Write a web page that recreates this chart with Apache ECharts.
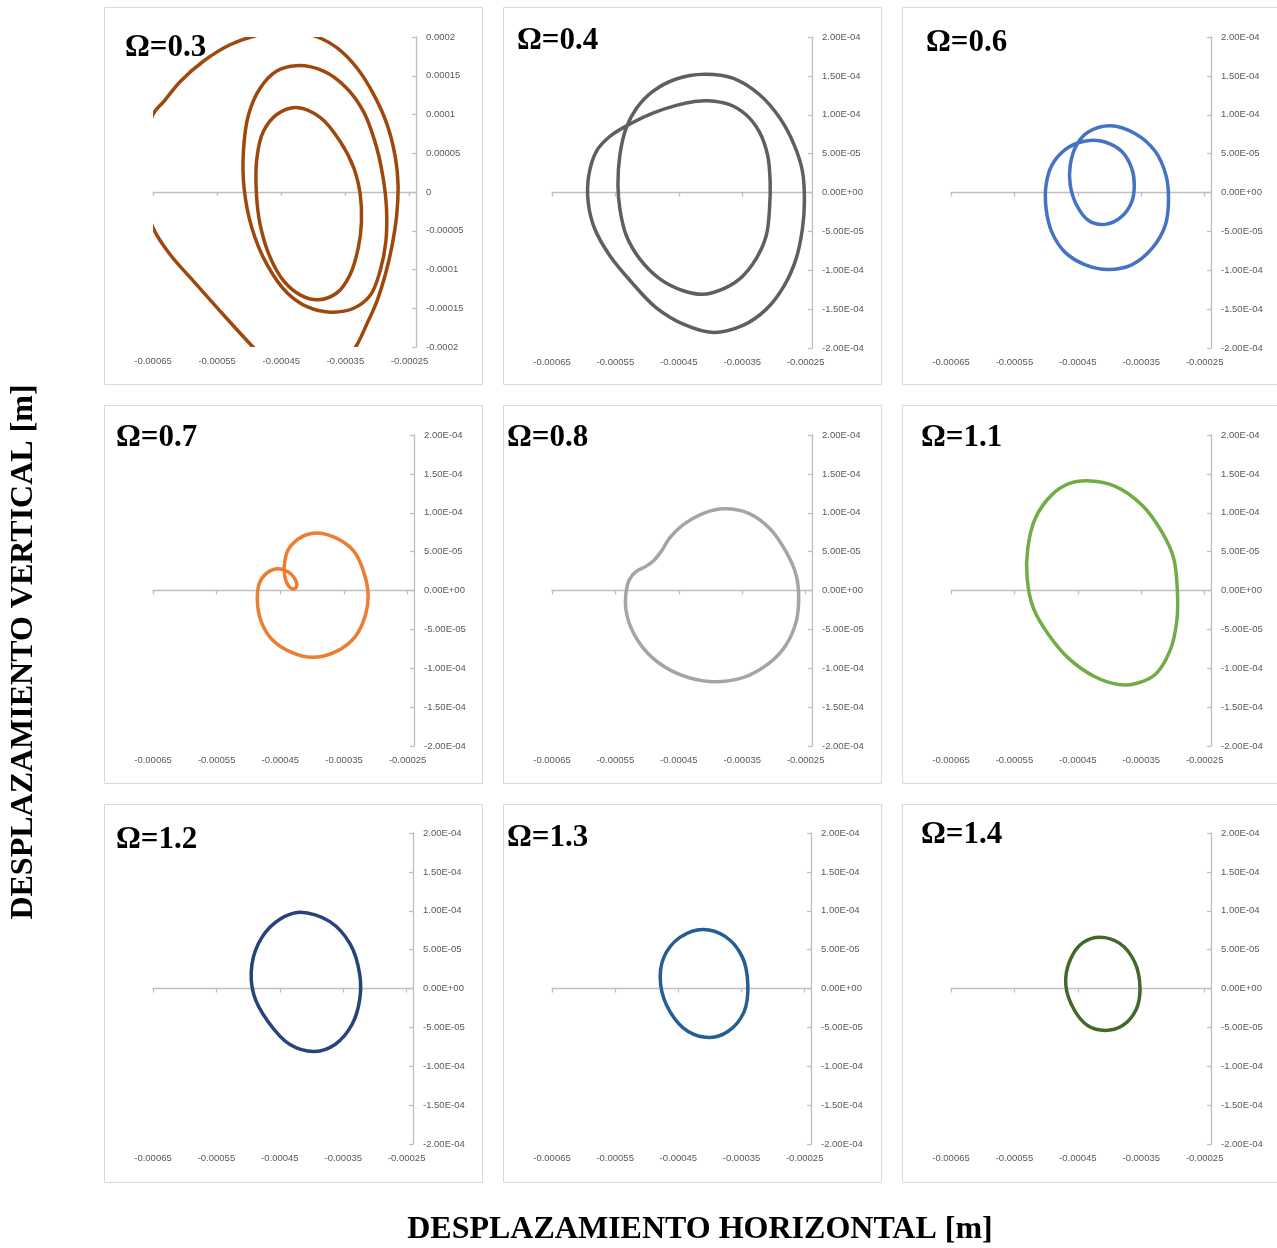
<!DOCTYPE html>
<html>
<head>
<meta charset="utf-8">
<title>Órbitas del rotor</title>
<script src="https://cdn.jsdelivr.net/npm/echarts@6/dist/echarts.min.js"></script>
<style>
  html, body { margin: 0; padding: 0; background: #ffffff; }
  #chart { width: 1277px; height: 1248px; }
</style>
</head>
<body>
<div id="chart"></div>
<script>
// ---- Axis ticks (metres) ----
const xTicks = [-0.00065, -0.00055, -0.00045, -0.00035, -0.00025];
const yTicks = [-0.0002, -0.00015, -0.0001, -0.00005, 0, 0.00005, 0.0001, 0.00015, 0.0002];

// ---- Orbits: [horizontal, vertical] displacement in metres, one closed loop per array ----
const orbit03Outer = [[-444e-6,209e-6],[-397e-6,201e-6],[-363e-6,186e-6],[-332e-6,160e-6],[-306e-6,126e-6],[-285e-6,87e-6],[-272e-6,44e-6],[-268e-6,10e-6],[-270e-6,-29e-6],[-278e-6,-72e-6],[-288e-6,-107e-6],[-301e-6,-141e-6],[-317e-6,-171e-6],[-335e-6,-201e-6],[-363e-6,-226e-6],[-415e-6,-237e-6],[-460e-6,-228e-6],[-493e-6,-201e-6],[-545e-6,-154e-6],[-587e-6,-115e-6],[-623e-6,-81e-6],[-650e-6,-46e-6],[-675e-6,27e-6],[-650e-6,100e-6],[-633e-6,117e-6],[-607e-6,143e-6],[-571e-6,169e-6],[-530e-6,190e-6],[-493e-6,201e-6]];
const orbit03Middle = [[-427e-6,163e-6],[-384e-6,156e-6],[-348e-6,134e-6],[-322e-6,104e-6],[-304e-6,65e-6],[-292e-6,22e-6],[-286e-6,-21e-6],[-287e-6,-64e-6],[-296e-6,-102e-6],[-311e-6,-133e-6],[-337e-6,-150e-6],[-374e-6,-155e-6],[-410e-6,-148e-6],[-441e-6,-130e-6],[-472e-6,-94e-6],[-496e-6,-46e-6],[-508e-6,5e-6],[-509e-6,53e-6],[-501e-6,100e-6],[-483e-6,134e-6],[-457e-6,156e-6]];
const orbit03Inner = [[-427e-6,109e-6],[-389e-6,96e-6],[-358e-6,65e-6],[-337e-6,31e-6],[-327e-6,-3e-6],[-325e-6,-38e-6],[-330e-6,-72e-6],[-343e-6,-107e-6],[-363e-6,-130e-6],[-392e-6,-139e-6],[-420e-6,-133e-6],[-446e-6,-115e-6],[-467e-6,-85e-6],[-483e-6,-42e-6],[-489e-6,1e-6],[-488e-6,44e-6],[-478e-6,78e-6],[-457e-6,100e-6]];
const orbit04 = [[-410e-6,152e-6],[-365e-6,147e-6],[-323e-6,126e-6],[-291e-6,96e-6],[-268e-6,61e-6],[-255e-6,27e-6],[-252e-6,-12e-6],[-255e-6,-46e-6],[-265e-6,-85e-6],[-284e-6,-120e-6],[-312e-6,-150e-6],[-349e-6,-171e-6],[-396e-6,-180e-6],[-441e-6,-170e-6],[-486e-6,-148e-6],[-525e-6,-115e-6],[-559e-6,-81e-6],[-583e-6,-46e-6],[-593e-6,-12e-6],[-592e-6,22e-6],[-580e-6,53e-6],[-559e-6,72e-6],[-525e-6,89e-6],[-491e-6,102e-6],[-454e-6,112e-6],[-425e-6,117e-6],[-404e-6,118e-6],[-370e-6,113e-6],[-344e-6,100e-6],[-323e-6,78e-6],[-310e-6,48e-6],[-306e-6,14e-6],[-307e-6,-21e-6],[-312e-6,-55e-6],[-328e-6,-85e-6],[-354e-6,-111e-6],[-386e-6,-126e-6],[-412e-6,-131e-6],[-444e-6,-126e-6],[-480e-6,-111e-6],[-512e-6,-85e-6],[-533e-6,-55e-6],[-543e-6,-21e-6],[-546e-6,10e-6],[-543e-6,48e-6],[-533e-6,83e-6],[-517e-6,108e-6],[-491e-6,130e-6],[-454e-6,146e-6]];
const orbit06 = [[-399e-6,86e-6],[-360e-6,76e-6],[-328e-6,53e-6],[-311e-6,22e-6],[-307e-6,-8e-6],[-312e-6,-42e-6],[-333e-6,-72e-6],[-365e-6,-93e-6],[-402e-6,-99e-6],[-438e-6,-93e-6],[-470e-6,-77e-6],[-491e-6,-51e-6],[-500e-6,-21e-6],[-500e-6,10e-6],[-491e-6,35e-6],[-470e-6,55e-6],[-449e-6,64e-6],[-431e-6,67e-6],[-407e-6,65e-6],[-381e-6,53e-6],[-365e-6,31e-6],[-361e-6,10e-6],[-365e-6,-12e-6],[-381e-6,-31e-6],[-407e-6,-41e-6],[-433e-6,-36e-6],[-452e-6,-16e-6],[-462e-6,10e-6],[-462e-6,35e-6],[-452e-6,61e-6],[-433e-6,78e-6]];
const orbit07 = [[-392e-6,74e-6],[-361e-6,67e-6],[-334e-6,50e-6],[-319e-6,24e-6],[-312e-6,-6e-6],[-316e-6,-31e-6],[-332e-6,-59e-6],[-361e-6,-78e-6],[-400e-6,-86e-6],[-434e-6,-79e-6],[-463e-6,-63e-6],[-480e-6,-40e-6],[-486e-6,-14e-6],[-483e-6,9e-6],[-472e-6,22e-6],[-455e-6,28e-6],[-438e-6,24e-6],[-428e-6,16e-6],[-424e-6,7e-6],[-428e-6,2e-6],[-435e-6,4e-6],[-441e-6,12e-6],[-444e-6,26e-6],[-443e-6,37e-6],[-438e-6,52e-6],[-424e-6,65e-6],[-408e-6,72e-6]];
const orbit08 = [[-378e-6,105e-6],[-339e-6,99e-6],[-307e-6,80e-6],[-281e-6,50e-6],[-265e-6,20e-6],[-261e-6,-10e-6],[-265e-6,-40e-6],[-281e-6,-70e-6],[-307e-6,-93e-6],[-349e-6,-112e-6],[-402e-6,-117e-6],[-449e-6,-108e-6],[-491e-6,-87e-6],[-520e-6,-57e-6],[-533e-6,-27e-6],[-533e-6,-1e-6],[-528e-6,14e-6],[-518e-6,24e-6],[-502e-6,31e-6],[-489e-6,39e-6],[-478e-6,50e-6],[-465e-6,67e-6],[-444e-6,84e-6],[-412e-6,99e-6]];
const orbit11 = [[-436e-6,141e-6],[-391e-6,134e-6],[-349e-6,110e-6],[-318e-6,76e-6],[-299e-6,42e-6],[-293e-6,-1e-6],[-294e-6,-40e-6],[-305e-6,-78e-6],[-328e-6,-108e-6],[-360e-6,-120e-6],[-386e-6,-121e-6],[-423e-6,-111e-6],[-465e-6,-87e-6],[-496e-6,-57e-6],[-520e-6,-23e-6],[-530e-6,16e-6],[-529e-6,54e-6],[-517e-6,93e-6],[-491e-6,123e-6],[-465e-6,137e-6]];
const orbit12 = [[-418e-6,98e-6],[-371e-6,86e-6],[-339e-6,57e-6],[-324e-6,18e-6],[-324e-6,-14e-6],[-336e-6,-46e-6],[-363e-6,-72e-6],[-395e-6,-81e-6],[-434e-6,-72e-6],[-469e-6,-42e-6],[-491e-6,-8e-6],[-494e-6,31e-6],[-478e-6,66e-6],[-450e-6,89e-6]];
const orbit13 = [[-411e-6,76e-6],[-376e-6,67e-6],[-349e-6,41e-6],[-340e-6,5e-6],[-346e-6,-30e-6],[-371e-6,-55e-6],[-400e-6,-63e-6],[-435e-6,-55e-6],[-463e-6,-30e-6],[-478e-6,5e-6],[-473e-6,40e-6],[-447e-6,66e-6]];
const orbit14 = [[-415e-6,66e-6],[-384e-6,58e-6],[-361e-6,35e-6],[-352e-6,1e-6],[-358e-6,-27e-6],[-380e-6,-48e-6],[-407e-6,-54e-6],[-434e-6,-48e-6],[-456e-6,-27e-6],[-469e-6,5e-6],[-462e-6,37e-6],[-442e-6,59e-6]];

// ---- Panels: frequency ratio, orbit loops, colour, vertical label style ----
const omegas = ['0.3', '0.4', '0.6', '0.7', '0.8', '1.1', '1.2', '1.3', '1.4'];
const panelLoops = [[orbit03Outer, orbit03Middle, orbit03Inner], [orbit04], [orbit06], [orbit07], [orbit08], [orbit11], [orbit12], [orbit13], [orbit14]];
const panelColors = ['#9E480E', '#5F5F5F', '#4472C4', '#ED7D31', '#A5A5A5', '#70AD47', '#264478', '#255E91', '#43682B'];
const panelLabelStyle = ['general', 'sci', 'sci', 'sci', 'sci', 'sci', 'sci', 'sci', 'sci'];

// ---- Layout (pixels) ----
const plotBoxes = [
  [153, 37, 263, 310], [552, 37, 260, 311], [951, 37, 260, 311],
  [153, 435, 261, 311], [552, 435, 260, 311], [951, 435, 260, 311],
  [153, 833, 260, 311], [552, 833, 259, 311], [951, 833, 260, 311]
];
const frameBoxes = [
  [104.5, 7.5, 378, 377], [503.5, 7.5, 378, 377], [902.5, 7.5, 378, 377],
  [104.5, 405.5, 378, 378], [503.5, 405.5, 378, 378], [902.5, 405.5, 378, 378],
  [104.5, 804.5, 378, 378], [503.5, 804.5, 378, 378], [902.5, 804.5, 378, 378]
];
const titleAnchors = [[125, 48], [517, 41], [926, 43], [116, 438], [507, 438], [921, 438], [116, 840], [507, 838], [921, 835]];

const X_MIN = -0.00065, X_MAX = -0.00024;
const Y_MIN = yTicks[0], Y_MAX = yTicks[yTicks.length - 1];
const AXIS_GREY = '#BFBFBF';
const LABEL_GREY = '#595959';
const TICK_FONT = '"Liberation Sans", Arial, sans-serif';
const TITLE_FONT = '"Liberation Serif", "Times New Roman", serif';

function fmtGeneral(v) {
  if (Math.abs(v) < 1e-12) return '0';
  return String(parseFloat(v.toPrecision(6)));
}
function fmtSci(v) {
  if (Math.abs(v) < 1e-12) v = 0;
  const parts = v.toExponential(2).split('e');
  const e = parseInt(parts[1], 10);
  return parts[0] + 'E' + (e < 0 ? '-' : '+') + String(Math.abs(e)).padStart(2, '0');
}

// Closed centripetal Catmull-Rom curve through pixel points, as SVG path data.
function closedCurvePath(pts) {
  const n = pts.length;
  const dist = (a, b) => Math.max(1e-6, Math.sqrt(Math.hypot(b[0] - a[0], b[1] - a[1])));
  let d = 'M' + pts[0][0].toFixed(2) + ' ' + pts[0][1].toFixed(2);
  for (let i = 0; i < n; i++) {
    const p0 = pts[(i - 1 + n) % n], p1 = pts[i], p2 = pts[(i + 1) % n], p3 = pts[(i + 2) % n];
    const t1 = dist(p0, p1), t2 = dist(p1, p2), t3 = dist(p2, p3);
    const t1s = t1 * t1, t2s = t2 * t2, t3s = t3 * t3;
    const c1 = [0, 1].map(k => (t1s * p2[k] - t2s * p0[k] + (2 * t1s + 3 * t1 * t2 + t2s) * p1[k]) / (3 * t1 * (t1 + t2)));
    const c2 = [0, 1].map(k => (t3s * p1[k] - t2s * p3[k] + (2 * t3s + 3 * t3 * t2 + t2s) * p2[k]) / (3 * t3 * (t3 + t2)));
    d += ' C' + [c1[0], c1[1], c2[0], c2[1], p2[0], p2[1]].map(v => v.toFixed(2)).join(' ');
  }
  return d + ' Z';
}

function orbitSeries(loop, panelIndex, color) {
  return {
    type: 'custom', xAxisIndex: 2 * panelIndex, yAxisIndex: panelIndex,
    data: loop, encode: { x: 0, y: 1 }, silent: true, z: 3,
    renderItem: (params, api) => {
      if (params.dataIndex !== 0) return { type: 'group', children: [] };
      const pts = loop.map(p => api.coord(p));
      const cs = params.coordSys;
      return {
        type: 'path',
        shape: { pathData: closedCurvePath(pts) },
        style: { fill: 'none', stroke: color, lineWidth: 3.5, lineJoin: 'round' },
        clipPath: { type: 'rect', shape: { x: cs.x, y: cs.y, width: cs.width, height: cs.height } }
      };
    }
  };
}

const grid = [], xAxis = [], yAxis = [], series = [], graphic = [];

omegas.forEach((om, i) => {
  const [l, t, w, h] = plotBoxes[i];
  grid.push({ left: l, top: t, width: w, height: h, containLabel: false, outerBoundsMode: 'none' });

  // horizontal tick labels along the bottom edge
  xAxis.push({
    type: 'value', gridIndex: i, min: X_MIN, max: X_MAX, interval: 0.00005, position: 'bottom',
    axisLine: { show: false, onZero: false }, axisTick: { show: false }, splitLine: { show: false },
    axisLabel: { customValues: xTicks, margin: 9, fontSize: 9.5, color: LABEL_GREY, fontFamily: TICK_FONT,
      formatter: v => fmtGeneral(v) }
  });
  // horizontal axis line through zero vertical displacement
  xAxis.push({
    type: 'value', gridIndex: i, min: X_MIN, max: X_MAX, interval: 0.00005, position: 'bottom',
    axisLine: { show: true, onZero: true, lineStyle: { color: AXIS_GREY, width: 1.3 } },
    axisTick: { show: true, customValues: xTicks, length: 4, lineStyle: { color: AXIS_GREY, width: 1.3 } },
    axisLabel: { show: false }, splitLine: { show: false }
  });
  yAxis.push({
    type: 'value', gridIndex: i, min: Y_MIN, max: Y_MAX, interval: 0.00005, position: 'right',
    axisLine: { show: true, onZero: false, lineStyle: { color: AXIS_GREY, width: 1.3 } },
    axisTick: { show: true, inside: true, length: 4, lineStyle: { color: AXIS_GREY, width: 1.3 } },
    splitLine: { show: false },
    axisLabel: { customValues: yTicks, margin: 10, fontSize: 9.5, color: LABEL_GREY, fontFamily: TICK_FONT,
      formatter: panelLabelStyle[i] === 'general' ? fmtGeneral : fmtSci }
  });

  panelLoops[i].forEach(loop => series.push(orbitSeries(loop, i, panelColors[i])));

  const [fx, fy, fw, fh] = frameBoxes[i];
  graphic.push({
    type: 'rect', shape: { x: fx, y: fy, width: fw, height: fh }, silent: true, z: -10,
    style: { fill: 'none', stroke: '#D9D9D9', lineWidth: 1 }
  });
  graphic.push({
    type: 'text', x: titleAnchors[i][0], y: titleAnchors[i][1], silent: true, z: 100,
    style: { text: 'Ω=' + om, fill: '#000000', font: 'bold 31px ' + TITLE_FONT,
      textAlign: 'left', textVerticalAlign: 'middle', verticalAlign: 'middle' }
  });
});

graphic.push({
  type: 'text', x: 24, y: 652, rotation: Math.PI / 2, silent: true,
  style: { text: 'DESPLAZAMIENTO VERTICAL [m]', fill: '#000000', font: 'bold 32px ' + TITLE_FONT,
    textAlign: 'center', textVerticalAlign: 'middle', verticalAlign: 'middle' }
});
graphic.push({
  type: 'text', x: 700, y: 1230, silent: true,
  style: { text: 'DESPLAZAMIENTO HORIZONTAL [m]', fill: '#000000', font: 'bold 32px ' + TITLE_FONT,
    textAlign: 'center', textVerticalAlign: 'middle', verticalAlign: 'middle' }
});

const chart = echarts.init(document.getElementById('chart'), null, { renderer: 'canvas' });
chart.setOption({
  backgroundColor: '#ffffff',
  animation: false,
  grid, xAxis, yAxis, series, graphic
});
</script>
</body>
</html>
